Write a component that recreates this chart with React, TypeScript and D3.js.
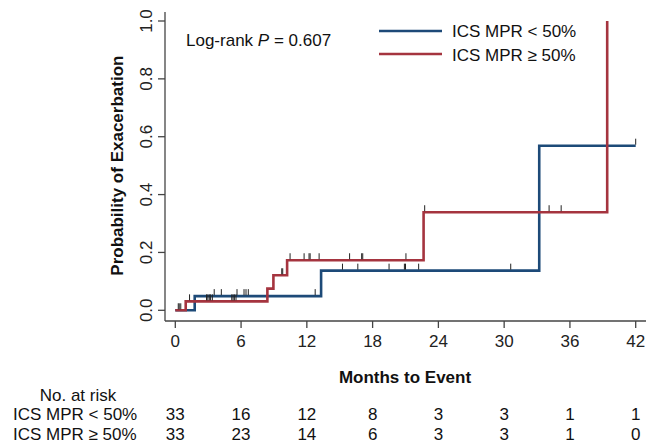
import * as d3 from "d3";
import React from "react";

// step points (months, cumulative probability)
const lowTimes = [0, 1.77, 13.3, 33.2, 42];
const lowProbs = [0, 0.049, 0.137, 0.569, 0.569];
const highTimes = [0, 0.95, 8.4, 8.95, 10.2, 22.65, 39.4];
const highProbs = [0, 0.031, 0.075, 0.121, 0.173, 0.339, 1.0];

// censoring marks
const lowCensor = [3.55, 4.2, 5.63, 6.27, 6.45, 6.66, 12.76, 15.25, 16.65, 19.5, 20.9, 21.0, 22.2, 30.6, 42];
const highCensor = [0.27, 0.36, 0.5, 1.3, 2.85, 2.97, 3.1, 3.22, 3.38, 5.15, 5.27, 5.39, 5.54, 9.71, 9.8,
    10.47, 11.75, 12.2, 12.3, 13.12, 15.9, 17.0, 17.1, 21.04, 22.75, 34.1, 35.2];

const xTicks = [0, 6, 12, 18, 24, 30, 36, 42];
const yTicks = [0, 0.2, 0.4, 0.6, 0.8, 1.0];
const groups = ["ICS MPR < 50%", "ICS MPR \u2265 50%"];
const atRiskLow = [33, 16, 12, 8, 3, 3, 1, 1];
const atRiskHigh = [33, 23, 14, 6, 3, 3, 1, 0];

const BLUE = "#1d4a78";
const RED = "#a5343f";
const FONT = "Arial, 'Liberation Sans', sans-serif";

const x = d3.scaleLinear().domain([0, 42]).range([175.3, 635.7]);
const y = d3.scaleLinear().domain([0, 1]).range([310.3, 21]);

const stepLine = d3.line<[number, number]>()
    .x(d => x(d[0]))
    .y(d => y(d[1]))
    .curve(d3.curveStepAfter);

const levelAt = (times: number[], probs: number[], t: number) => {
    let v = probs[0];
    times.forEach((tt, i) => { if (tt <= t) v = probs[i]; });
    return v;
};

const App = () => {
    const lowPts = lowTimes.map((t, i) => [t, lowProbs[i]] as [number, number]);
    const highPts = highTimes.map((t, i) => [t, highProbs[i]] as [number, number]);
    const axisColor = "#444";

    return (
        <svg width={646} height={443} style={{ position: "absolute", left: 0, top: 0, background: "#fff" }}
            fontFamily={FONT}>
            {/* y axis */}
            <line x1={165} x2={165} y1={12} y2={321} stroke={axisColor} strokeWidth={1.3} />
            {yTicks.map(v => (
                <g key={v}>
                    <line x1={158} x2={165} y1={y(v)} y2={y(v)} stroke={axisColor} strokeWidth={1.3} />
                    <text transform={`translate(152,${y(v)}) rotate(-90)`} textAnchor="middle" fontSize={17}
                        fill="#222">{v.toFixed(1)}</text>
                </g>
            ))}
            <text transform={`translate(123,${(y(0) + y(1)) / 2}) rotate(-90)`} textAnchor="middle"
                fontSize={17} fontWeight="bold" fill="#111">Probability of Exacerbation</text>

            {/* x axis */}
            <line x1={165} x2={646} y1={321} y2={321} stroke={axisColor} strokeWidth={1.3} />
            {xTicks.map(t => (
                <g key={t}>
                    <line x1={x(t)} x2={x(t)} y1={321} y2={328} stroke={axisColor} strokeWidth={1.3} />
                    <text x={x(t)} y={347} textAnchor="middle" fontSize={17} fill="#222">{t}</text>
                </g>
            ))}
            <text x={405} y={383} textAnchor="middle" fontSize={17} fontWeight="bold" fill="#111">Months to Event</text>

            {/* curves */}
            <path d={stepLine(lowPts) || ""} fill="none" stroke={BLUE} strokeWidth={2.6} />
            <path d={stepLine(highPts) || ""} fill="none" stroke={RED} strokeWidth={2.6} />

            {lowCensor.map((t, i) => {
                const yy = y(levelAt(lowTimes, lowProbs, t));
                return <line key={"l" + i} x1={x(t)} x2={x(t)} y1={yy - 1} y2={yy - 7} stroke="#222" strokeWidth={1} />;
            })}
            {highCensor.map((t, i) => {
                const yy = y(levelAt(highTimes, highProbs, t));
                return <line key={"h" + i} x1={x(t)} x2={x(t)} y1={yy - 1} y2={yy - 7} stroke="#222" strokeWidth={1} />;
            })}

            {/* annotation */}
            <text x={186} y={46} fontSize={17} fill="#111">
                Log-rank <tspan fontStyle="italic">P</tspan> = 0.607
            </text>

            {/* legend */}
            {[BLUE, RED].map((c, i) => (
                <g key={c}>
                    <line x1={379} x2={442} y1={31 + i * 23} y2={31 + i * 23} stroke={c} strokeWidth={2.6} />
                    <text x={452} y={37 + i * 23.5} fontSize={17} fill="#111">{groups[i]}</text>
                </g>
            ))}

            {/* number at risk */}
            <text x={78} y={401} textAnchor="middle" fontSize={17} fill="#111">No. at risk</text>
            {[atRiskLow, atRiskHigh].map((row, r) => (
                <g key={r}>
                    <text x={13} y={420 + r * 20} fontSize={17} fill="#111">{groups[r]}</text>
                    {row.map((n, i) => (
                        <text key={i} x={x(xTicks[i])} y={420 + r * 20} textAnchor="middle" fontSize={17}
                            fill="#111">{n}</text>
                    ))}
                </g>
            ))}
        </svg>
    );
};

export default App;
